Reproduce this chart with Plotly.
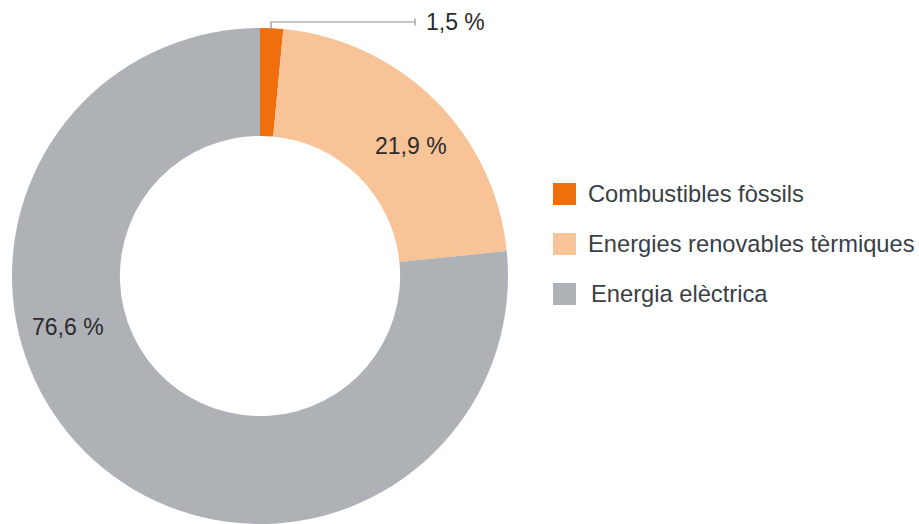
import plotly.graph_objects as go

categories = ["Combustibles fòssils", "Energies renovables tèrmiques", "Energia elèctrica"]
values = [1.5, 21.9, 76.6]
colors = ["#EE6F0B", "#F8C396", "#AEB2B6"]

W, H = 919, 524
def fx(p):
    return p / W
def fy(p):
    return 1 - p / H

def fmt(v):
    return f"{v:.1f}".replace(".", ",") + " %"

fig = go.Figure(go.Pie(
    labels=categories, values=values, sort=False, direction="clockwise", rotation=0,
    hole=0.565, marker=dict(colors=colors, line=dict(width=0)),
    textinfo="none", hoverinfo="label+percent", showlegend=False,
    domain=dict(x=[fx(12), fx(508)], y=[0, fy(28)]),
))

font = "Liberation Sans, Arial, Helvetica, sans-serif"
label_color = "#2b2b2b"

anns = [
    dict(x=fx(411), y=fy(146), text=fmt(values[1])),
    dict(x=fx(68), y=fy(327), text=fmt(values[2])),
    dict(x=fx(424), y=fy(22), text=fmt(values[0]), xanchor="left"),
]
for a in anns:
    a.setdefault("xanchor", "center")
    fig.add_annotation(xref="paper", yref="paper", yanchor="middle", showarrow=False,
                       font=dict(family=font, size=23, color=label_color), **a)

# leader line for smallest slice
line_col = "#8C9196"
fig.add_shape(type="path", xref="paper", yref="paper",
              path=f"M {fx(271)},{fy(30)} L {fx(271)},{fy(22)} L {fx(415)},{fy(22)}",
              line=dict(color=line_col, width=1.2))
fig.add_shape(type="line", xref="paper", yref="paper",
              x0=fx(415), x1=fx(415), y0=fy(18.5), y1=fy(25.5),
              line=dict(color=line_col, width=1.2))

# custom legend
rows_y = [194, 244, 294]
text_x = [586, 586, 589]
for cat, col, ry, tx in zip(categories, colors, rows_y, text_x):
    fig.add_shape(type="rect", xref="paper", yref="paper",
                  x0=fx(553), x1=fx(576), y0=fy(ry - 11), y1=fy(ry + 11),
                  fillcolor=col, line=dict(width=0))
    fig.add_annotation(xref="paper", yref="paper", x=fx(tx), y=fy(ry),
                       xanchor="left", yanchor="middle", showarrow=False, text=cat,
                       font=dict(family=font, size=23.7, color="#3A3F45"))

fig.update_layout(width=W, height=H, margin=dict(l=0, r=0, t=0, b=0),
                  paper_bgcolor="white", plot_bgcolor="white")
fig.write_html("out.html")
